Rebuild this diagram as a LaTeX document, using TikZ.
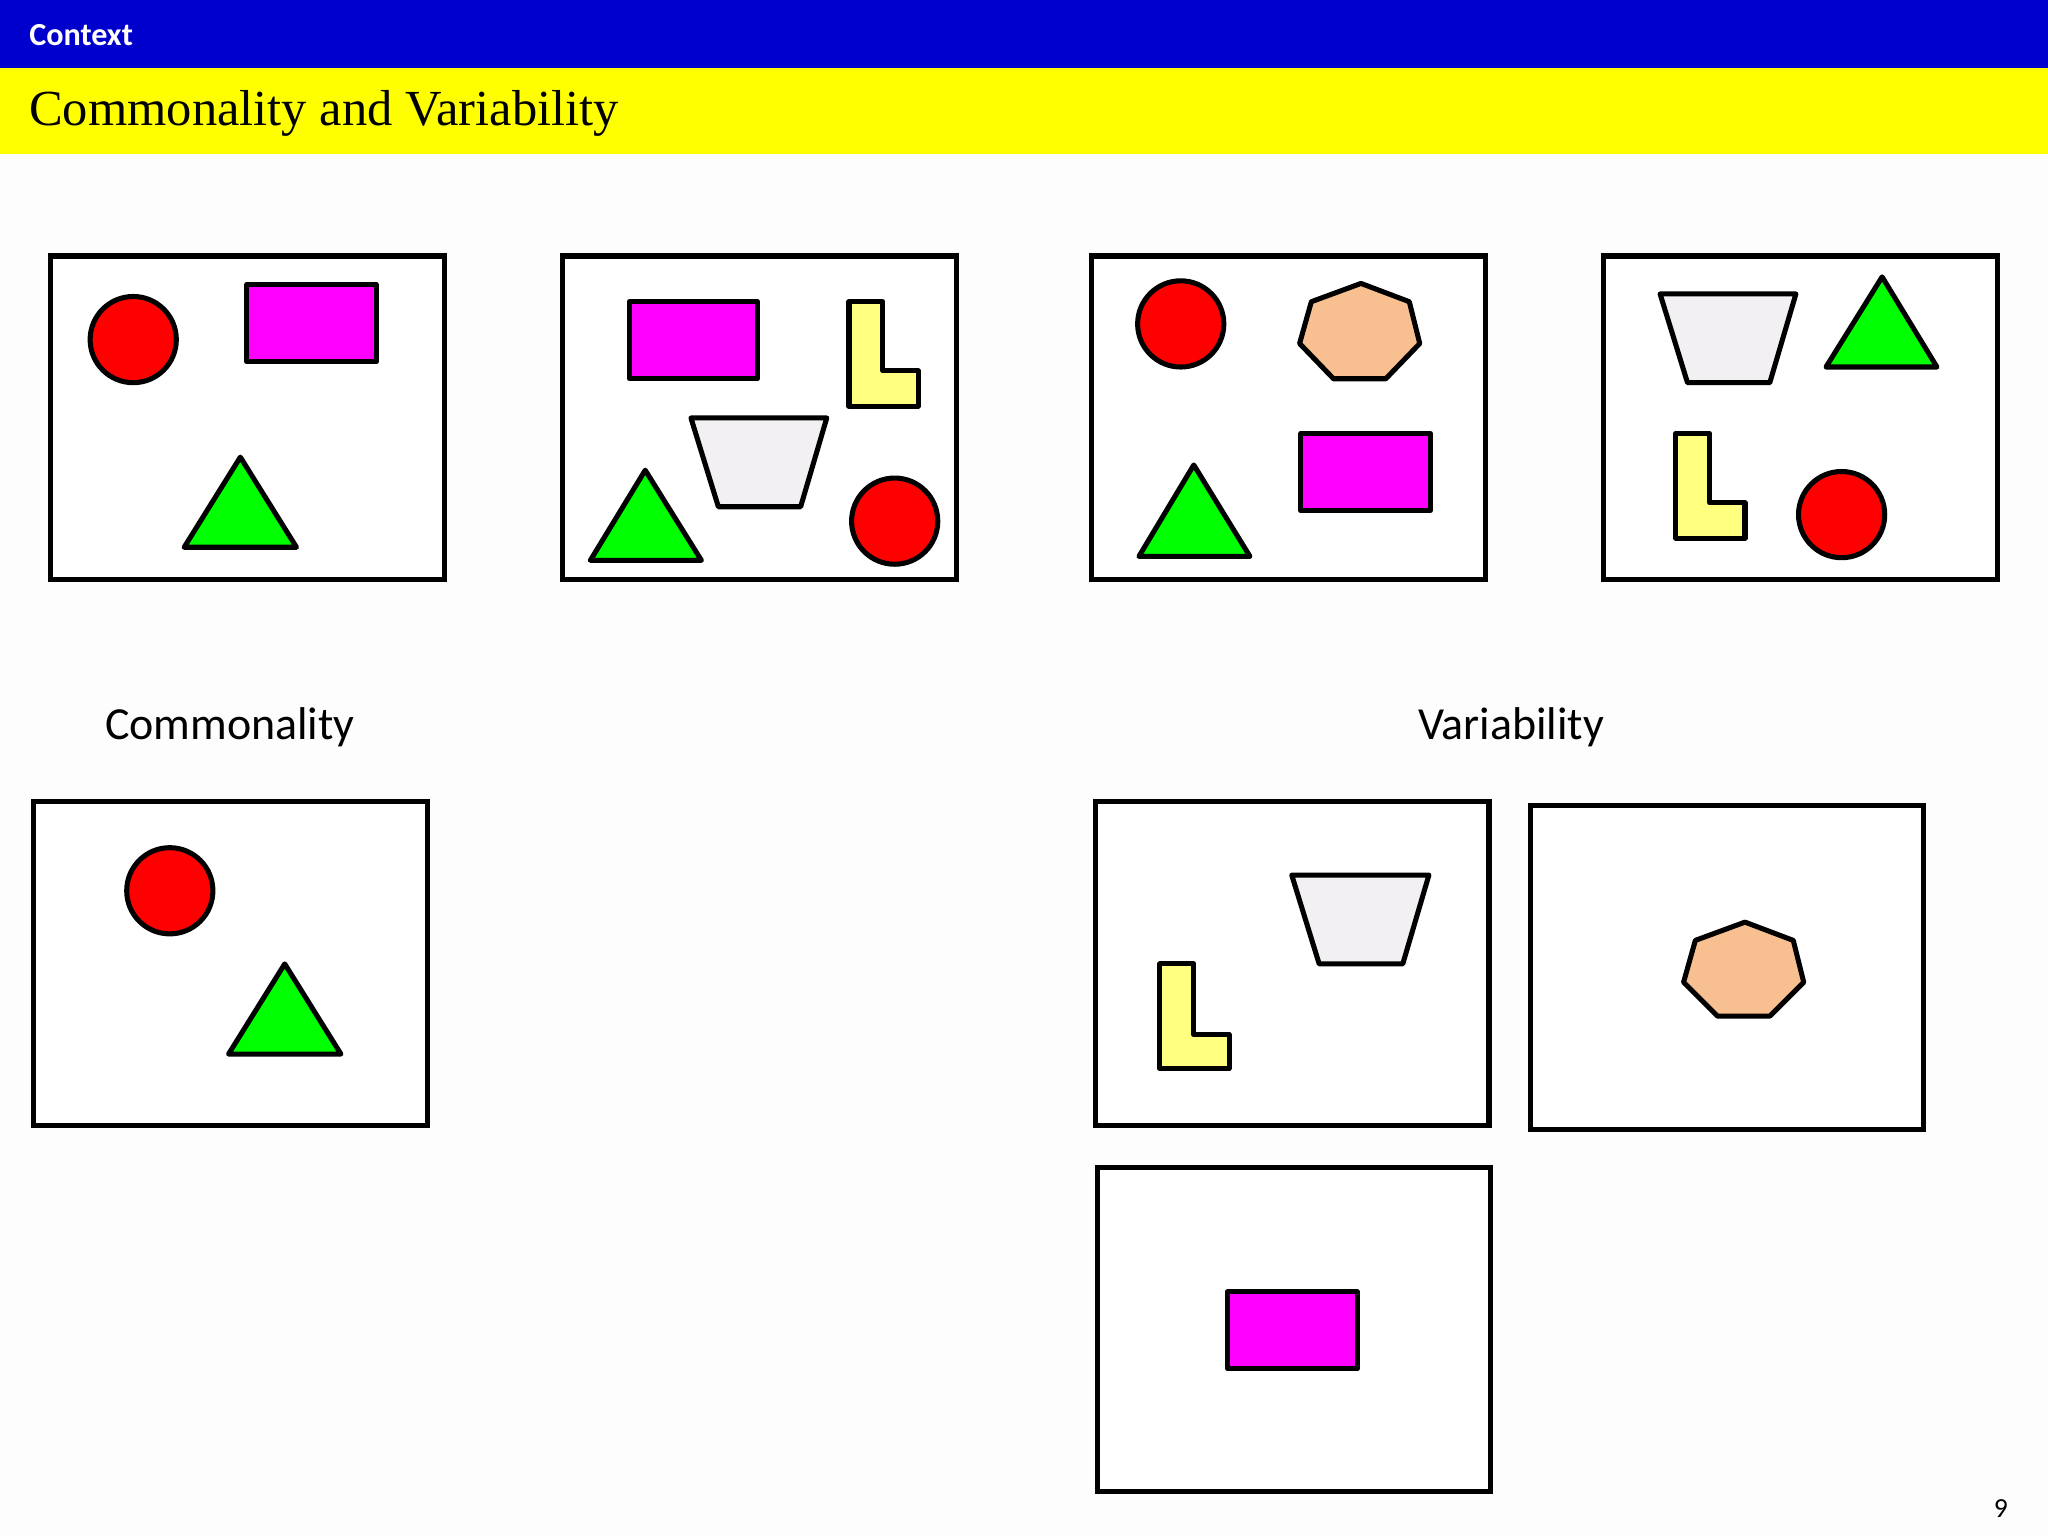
\documentclass[tikz,border=0pt]{standalone}
\usepackage{fontspec}
\setmainfont{Carlito}
\newfontfamily\titlefont{Liberation Serif}
\begin{document}
\begin{tikzpicture}[x=0.01cm,y=-0.01cm,
  shp/.style={draw=black,line width=1.1pt,line join=round},
  frame/.style={draw=black,line width=1.1pt,fill=white},
  red/.style={shp,fill={rgb,255:red,255;green,0;blue,0}},
  mag/.style={shp,fill={rgb,255:red,255;green,0;blue,255}},
  grn/.style={shp,fill={rgb,255:red,0;green,255;blue,0}},
  trap/.style={shp,fill={rgb,255:red,242;green,240;blue,242}},
  ell/.style={shp,fill={rgb,255:red,255;green,255;blue,128}},
  hep/.style={shp,fill={rgb,255:red,248;green,192;blue,144}}]
\fill[fill={rgb,255:red,253;green,253;blue,253}] (0,0) rectangle (1568,1176);
\useasboundingbox (0,0) rectangle (1568,1176);
\fill[fill={rgb,255:red,0;green,0;blue,204}] (0,0) rectangle (1568,52);
\fill[fill={rgb,255:red,255;green,255;blue,0}] (0,52) rectangle (1568,118);
\node[anchor=west,text=white,font=\fontsize{7}{8}\selectfont\bfseries] (ctx) at (10,27) {Context};
\node[anchor=west,font=\titlefont\fontsize{11}{13}\selectfont] (ttl) at (10,87) {Commonality and Variability};
\node[font=\fontsize{10}{12}\selectfont] (com) at (176,557) {Commonality};
\node[font=\fontsize{10}{12}\selectfont] (var) at (1157,557) {Variability};
\node[font=\fontsize{6}{7}\selectfont] (pg) at (1532,1155) {9};
% frames
\draw[frame] (39,196) rectangle (340,444);
\draw[frame] (431,196) rectangle (732,444);
\draw[frame] (836,196) rectangle (1137,444);
\draw[frame] (1228,196) rectangle (1529,444);
\draw[frame] (26,614) rectangle (327,862);
\draw[frame] (839,614) rectangle (1140,862);
\draw[frame] (1172,617) rectangle (1473,865);
\draw[frame] (840,894) rectangle (1141,1142);
% box 1
\draw[red] (102,260) circle (33);
\draw[mag] (189,218) rectangle (288,277);
\draw[grn] (141,419) -- (227,419) -- (184,350) -- cycle;
% box 2
\draw[mag] (482,231) rectangle (580,290);
\draw[ell] (650,231) -- (676,231) -- (676,284) -- (703,284) -- (703,311) -- (650,311) -- cycle;
\draw[trap] (529,320) -- (633,320) -- (613,388) -- (550,388) -- cycle;
\draw[grn] (452,429) -- (537,429) -- (494,360) -- cycle;
\draw[red] (685,399) circle (33);
% box 3
\draw[red] (904,248) circle (33);
\draw[hep] (1004,231) -- (1042,217) -- (1079,231) -- (1087,263) -- (1061,290) -- (1021,290) -- (995,263) -- cycle;
\draw[grn] (872,426) -- (957,426) -- (914,356) -- cycle;
\draw[mag] (996,332) rectangle (1095,391);
% box 4
\draw[trap] (1271,225) -- (1375,225) -- (1355,293) -- (1292,293) -- cycle;
\draw[grn] (1398,281) -- (1483,281) -- (1441,212) -- cycle;
\draw[ell] (1283,332) -- (1309,332) -- (1309,385) -- (1336,385) -- (1336,412) -- (1283,412) -- cycle;
\draw[red] (1410,394) circle (33);
% commonality
\draw[red] (130,682) circle (33);
\draw[grn] (175,807) -- (261,807) -- (218,738) -- cycle;
% variability
\draw[trap] (989,670) -- (1094,670) -- (1074,738) -- (1010,738) -- cycle;
\draw[ell] (888,738) -- (914,738) -- (914,792) -- (941,792) -- (941,818) -- (888,818) -- cycle;
\draw[hep] (1298,720) -- (1336,706) -- (1373,720) -- (1381,752) -- (1355,778) -- (1315,778) -- (1289,752) -- cycle;
\draw[mag] (940,989) rectangle (1039,1048);
\end{tikzpicture}
\end{document}
